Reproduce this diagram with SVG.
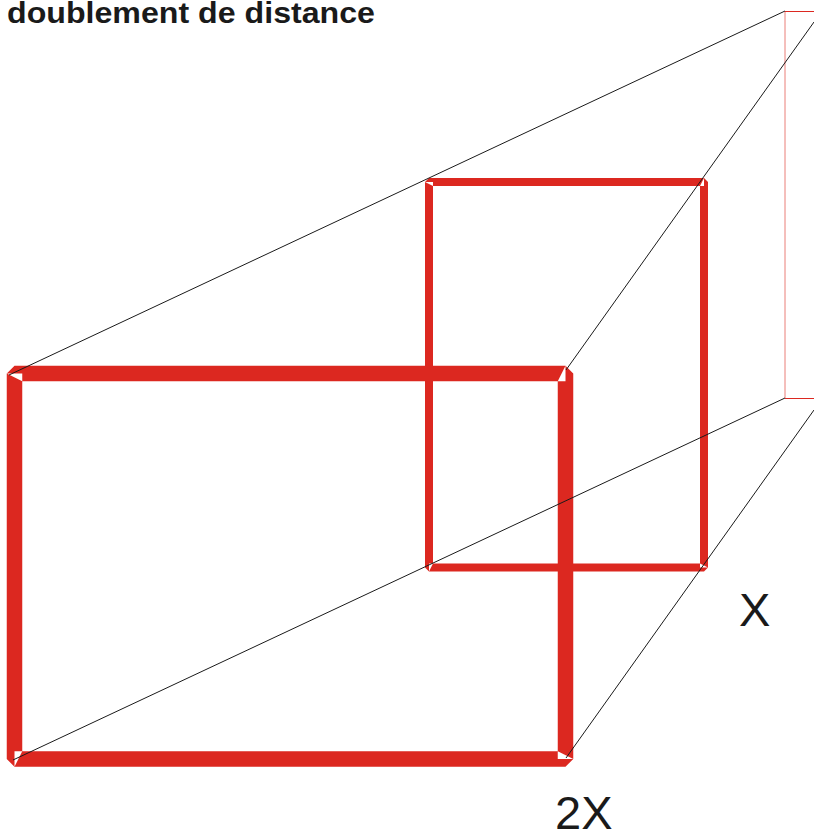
<svg xmlns="http://www.w3.org/2000/svg" width="814" height="832" viewBox="0 0 814 832">
<style>
.frame{fill:none;stroke:#DC2820;stroke-linejoin:bevel}
.gap{fill:#ffffff}
.ray{stroke:#1a1a1a;stroke-width:1;fill:none}
.guide{stroke:#DC2820;stroke-width:1;fill:none}
.lbl{font-family:"Liberation Sans",Arial,sans-serif;fill:#1a1a1a}
</style>
<rect width="814" height="832" fill="#ffffff"/>
<text class="lbl" x="7" y="23" font-size="29" font-weight="bold" textLength="368" lengthAdjust="spacingAndGlyphs">doublement de distance</text>
<g id="guide-plane">
<line class="guide" x1="785" y1="11" x2="785" y2="398" stroke-opacity="0.6"/>
<line class="guide" x1="785" y1="11.5" x2="814" y2="11.5"/>
<line class="guide" x1="785" y1="398.5" x2="814" y2="398.5"/>
</g>
<g id="frame-near">
<rect class="frame" x="429" y="182" width="275" height="385.5" stroke-width="8"/>
<polygon class="gap" points="425,182 433,182 433,186"/>
<polygon class="gap" points="704,178 704,186 700,186"/>
<polygon class="gap" points="708,567.5 700,567.5 700,563.5"/>
<polygon class="gap" points="429,571.5 429,563.5 433,563.5"/>
</g>
<g id="frame-far">
<rect class="frame" x="14.5" y="373.5" width="551" height="385.5" stroke-width="15.5"/>
<polygon class="gap" points="6.75,373.5 22.25,373.5 22.25,381.25"/>
<polygon class="gap" points="565.5,365.75 565.5,381.25 557.75,381.25"/>
<polygon class="gap" points="573.25,759 557.75,759 557.75,751.25"/>
<polygon class="gap" points="14.5,766.75 14.5,751.25 22.25,751.25"/>
</g>
<g id="connectors">
<line class="ray" x1="785" y1="11" x2="9" y2="375"/>
<line class="ray" x1="814" y1="22" x2="566" y2="370"/>
<line class="ray" x1="785" y1="398" x2="13" y2="760"/>
<line class="ray" x1="814" y1="410" x2="566" y2="758"/>
</g>
<text class="lbl" x="739" y="626" font-size="47">X</text>
<text class="lbl" x="555" y="829" font-size="47">2X</text>
</svg>
